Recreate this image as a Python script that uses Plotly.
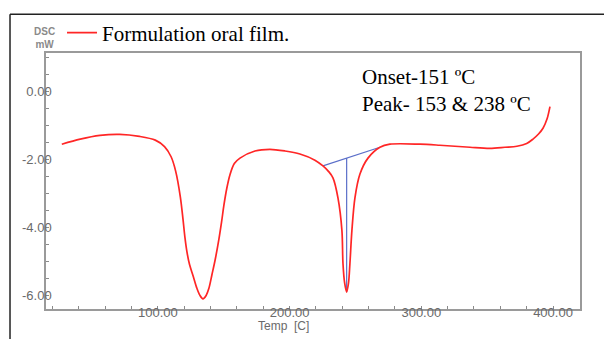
import plotly.graph_objects as go

# DSC curve (Temp [C], heat flow [mW])
temp = [27, 41, 56, 71, 86, 98, 105, 110, 113.5, 117, 119, 120.5, 122, 124,
        126.6, 129.6, 131.8, 134.2, 136.6, 138.7, 141, 143.5, 146.3, 148.3, 150.1,
        152.3, 154.7, 158, 162.3, 173.7, 185, 196.5, 207.8, 219.2,
        225.3, 229.5, 232.9, 236.7, 239.7, 240.5, 241.8, 243.3, 244.7, 245.8, 247.3,
        249.6, 253.4, 259.5, 268.6, 276.2, 299, 314, 337, 352, 363.5, 372.6, 380,
        384.8, 389, 392.4, 395.5, 397.7]
heat = [-1.55, -1.40, -1.29, -1.26, -1.32, -1.43, -1.62, -1.92, -2.35, -3.1, -3.75,
        -4.3, -4.72, -5.1, -5.42, -5.8, -6.0, -6.11, -6.01, -5.8, -5.4, -4.95, -4.35,
        -3.85, -3.35, -2.85, -2.45, -2.12, -1.96, -1.75, -1.70, -1.75, -1.84, -2.02,
        -2.19, -2.35, -2.54, -3.13, -4.09, -5.06, -5.65, -5.91, -5.65, -5.06, -4.09,
        -3.13, -2.43, -1.96, -1.64, -1.55, -1.55, -1.58, -1.64, -1.67, -1.64, -1.61,
        -1.53, -1.40, -1.25, -1.08, -0.80, -0.44]

# onset construction (baseline tangent and peak drop line)
base_t = [225.3, 268.6]
base_v = [-2.19, -1.64]
drop_t = [243.3, 243.3]
drop_v = [-1.96, -5.91]

x_ticks = [100, 200, 300, 400]
x_labels = ["100.00", "200.00", "300.00", "400.00"]
y_ticks = [0, -2, -4, -6]
y_labels = ["0.00", "-2.00", "-4.00", "-6.00"]

fig = go.Figure()
fig.add_trace(go.Scatter(x=base_t, y=base_v, mode="lines",
                         line=dict(color="#5b6fc9", width=1.2), showlegend=False))
fig.add_trace(go.Scatter(x=drop_t, y=drop_v, mode="lines",
                         line=dict(color="#5b6fc9", width=1.2), showlegend=False))
fig.add_trace(go.Scatter(x=temp, y=heat, mode="lines", name="Formulation oral film.",
                         line=dict(color="#ff2626", width=1.7, shape="spline", smoothing=0.9)))

axis_common = dict(showline=True, linecolor="#9a9a9a", linewidth=1.5, mirror=True,
                   showgrid=False, zeroline=False, ticks="inside", ticklen=3,
                   tickcolor="#8a8a8a", tickwidth=1.2,
                   tickfont=dict(family="Arial", size=13, color="#6a6a6a"))

fig.update_layout(
    width=604, height=339,
    margin=dict(l=46, r=24, t=51, b=30),
    paper_bgcolor="white", plot_bgcolor="white",
    xaxis=dict(range=[15, 420.5], tickvals=x_ticks, ticktext=x_labels,
               minor=dict(dtick=20, ticks="inside", ticklen=3, tickcolor="#8a8a8a"),
               ticklabelstandoff=-9, **axis_common),
    yaxis=dict(range=[-6.41, 1.14], tickvals=y_ticks, ticktext=y_labels,
               minor=dict(dtick=0.5, ticks="inside", ticklen=3, tickcolor="#8a8a8a"),
               ticklabelstandoff=-10, **axis_common),
    legend=dict(x=0.03, y=1.078, xanchor="left", yanchor="middle",
                bgcolor="rgba(0,0,0,0)",
                font=dict(family="Liberation Serif", size=21, color="black")),
    annotations=[
        dict(text="Temp  [C]", xref="paper", yref="paper", x=0.444, y=-0.065,
             xanchor="center", yanchor="middle", showarrow=False,
             font=dict(family="Arial", size=12, color="#6a6a6a")),
        dict(text="<b>DSC</b><br><b>mW</b>", xref="paper", yref="paper", x=0.02, y=1.058,
             xanchor="right", yanchor="middle", showarrow=False,
             font=dict(family="Arial", size=10, color="#8a8a8a")),
        dict(text="Onset-151 ºC<br>Peak- 153 &amp; 238 ºC", xref="paper", yref="paper",
             x=0.588, y=0.855, xanchor="left", yanchor="middle", align="left",
             showarrow=False, font=dict(family="Liberation Serif", size=21, color="black")),
    ],
    shapes=[
        dict(type="line", xref="paper", yref="paper", x0=-0.0674, x1=1.1, y0=1.151, y1=1.151,
             line=dict(color="#222222", width=1.5)),
        dict(type="line", xref="paper", yref="paper", x0=-0.0674, x1=-0.0674, y0=1.151, y1=-0.2,
             line=dict(color="#222222", width=1.5)),
    ],
)

fig.write_html("out.html")
